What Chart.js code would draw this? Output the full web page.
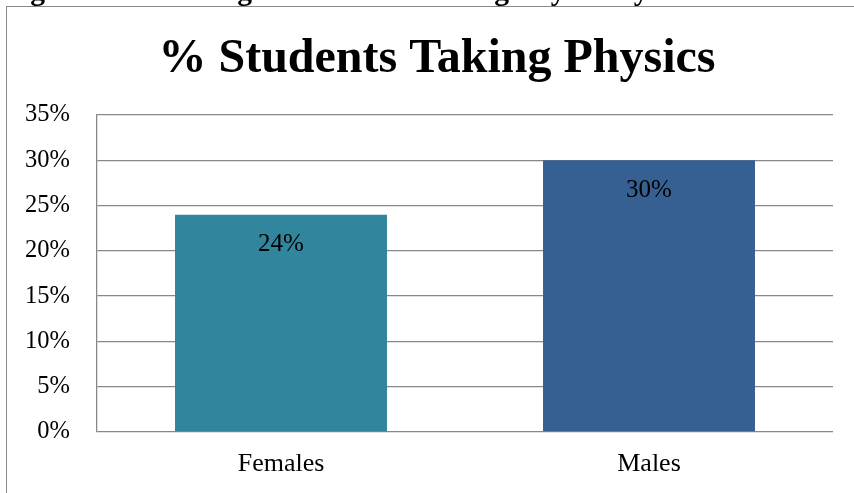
<!DOCTYPE html>
<html>
<head>
<meta charset="utf-8">
<script src="https://cdn.jsdelivr.net/npm/chart.js@4/dist/chart.umd.min.js"></script>
<style>
  html, body { margin: 0; padding: 0; background: #fff; }
  #wrap { position: relative; width: 854px; height: 493px; overflow: hidden; }
  #frame { position: absolute; left: 6px; top: 6px; width: 866px; height: 600px; border: 1.5px solid #888; }
  canvas { position: absolute; left: 0; top: 0; }
</style>
</head>
<body>
<div id="wrap">
  <div id="frame"></div>
  <canvas id="barChart" width="854" height="493"></canvas>
</div>
<script>
// chart data
const caption = 'Figure 1: Percentage of Students Taking Physics by Gender';
const chartTitle = '% Students Taking Physics';
const groups = ['Females', 'Males'];
const pctTaking = [24, 30];
const barColors = ['#31859c', '#376092'];
const yTicks = [0, 5, 10, 15, 20, 25, 30, 35];

const serif = '"Liberation Serif", "Times New Roman", serif';

// caption (cut off by the page top), title centred on the frame, and value labels
const extrasPlugin = {
  id: 'extras',
  afterDatasetsDraw(chart) {
    const ctx = chart.ctx;
    ctx.save();
    ctx.fillStyle = '#000';
    ctx.textBaseline = 'alphabetic';
    ctx.font = 'bold 29.5px ' + serif;
    ctx.textAlign = 'left';
    ctx.fillText(caption, 4, -0.5);

    ctx.font = 'bold 48px ' + serif;
    ctx.textAlign = 'center';
    ctx.fillText(chartTitle, 437, 72);

    ctx.font = '25px ' + serif;
    ctx.textBaseline = 'middle';
    chart.getDatasetMeta(0).data.forEach((bar, i) => {
      ctx.fillText(pctTaking[i] + '%', bar.x, bar.y + 30);
    });
    ctx.restore();
  }
};

new Chart(document.getElementById('barChart'), {
  type: 'bar',
  data: {
    labels: groups,
    datasets: [{
      data: pctTaking,
      backgroundColor: barColors,
      borderWidth: 0,
      categoryPercentage: 1,
      barPercentage: 0.576
    }]
  },
  options: {
    responsive: false,
    animation: false,
    devicePixelRatio: 1,
    layout: { padding: { top: 115, right: 21, bottom: 0, left: 0 } },
    plugins: {
      legend: { display: false },
      tooltip: { enabled: false },
      title: { display: false }
    },
    scales: {
      x: {
        grid: { display: false, drawTicks: false },
        border: { display: false },
        ticks: { color: '#000', padding: 17, font: { family: serif, size: 26 } },
        afterFit(scale) { scale.height = 61; }
      },
      y: {
        min: 0,
        max: 35,
        afterBuildTicks(scale) { scale.ticks = yTicks.map(v => ({ value: v })); },
        grid: { color: '#888', lineWidth: 1.3, drawTicks: false },
        border: { display: true, color: '#888', width: 1.3 },
        ticks: {
          color: '#000',
          padding: 27,
          font: { family: serif, size: 24.5 },
          callback: v => v + '%'
        },
        afterFit(scale) { scale.width = 97; }
      }
    }
  },
  plugins: [extrasPlugin]
});
</script>
</body>
</html>
